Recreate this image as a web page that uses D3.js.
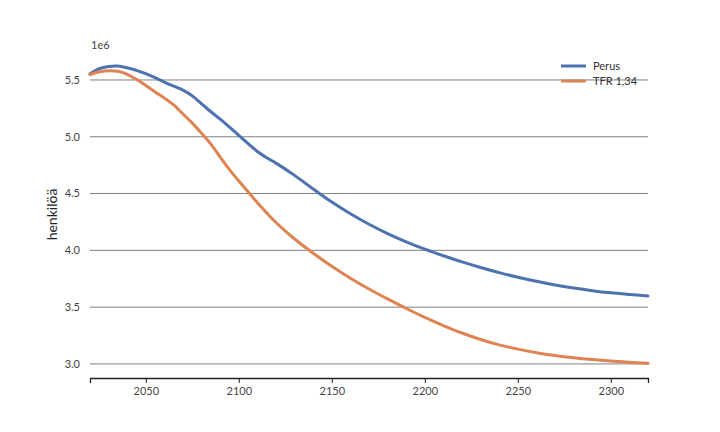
<!DOCTYPE html>
<html>
<head>
<meta charset="utf-8">
<script src="https://cdn.jsdelivr.net/npm/d3@7"></script>
<style>
  body { margin: 0; background: #fff; }
  svg { font-family: Lato, "Open Sans", sans-serif; }
</style>
</head>
<body>
<svg id="chart" width="720" height="432"></svg>
<script>
const years = [2020,2025,2030,2035,2040,2045,2050,2055,2060,2065,2070,2075,2080,2085,2090,2095,2100,2105,2110,2115,2120,2130,2140,2150,2160,2170,2180,2190,2200,2210,2220,2230,2240,2250,2260,2270,2280,2290,2300,2310,2320];
const perus = [5.555,5.60,5.618,5.622,5.607,5.585,5.555,5.52,5.48,5.445,5.41,5.36,5.29,5.22,5.155,5.085,5.012,4.94,4.87,4.815,4.768,4.66,4.54,4.425,4.322,4.23,4.148,4.075,4.01,3.952,3.898,3.849,3.804,3.763,3.727,3.695,3.668,3.645,3.626,3.611,3.599];
const tfr = [5.548,5.572,5.582,5.576,5.55,5.505,5.452,5.395,5.34,5.28,5.20,5.12,5.03,4.935,4.82,4.71,4.61,4.515,4.42,4.33,4.245,4.10,3.975,3.86,3.755,3.66,3.572,3.488,3.41,3.338,3.272,3.215,3.168,3.13,3.099,3.074,3.054,3.038,3.025,3.014,3.005];
const seriesNames = ["Perus", "TFR 1,34"];
const xTicks = [2050,2100,2150,2200,2250,2300];
const yTicks = [3.0,3.5,4.0,4.5,5.0,5.5];
const yLabel = "henkilöä";
const scaleLabel = "1e6";

const colors = ["#4c72b0", "#dd8452"];
const svg = d3.select("#chart");
const mLeft = 90, mRight = 648, mTop = 51, mBottom = 378;

const x = d3.scaleLinear().domain([2020, 2320]).range([mLeft, mRight]);
const y = d3.scaleLinear().domain([2.876, 5.755]).range([mBottom, mTop]);

// gridlines
svg.append("g").selectAll("line").data(yTicks).join("line")
  .attr("x1", mLeft).attr("x2", mRight)
  .attr("y1", d => y(d)).attr("y2", d => y(d))
  .attr("stroke", "#808080").attr("stroke-width", 1);

// y tick labels
svg.append("g").selectAll("text").data(yTicks).join("text")
  .attr("x", 80).attr("y", d => y(d)).attr("dy", "0.35em")
  .attr("text-anchor", "end").attr("font-size", 11).attr("fill", "#444")
  .text(d => d3.format(".1f")(d));

// x axis
const xAxis = d3.axisBottom(x).tickValues(xTicks).tickFormat(d3.format("d")).tickSize(5).tickPadding(4);
const gx = svg.append("g").attr("transform", `translate(0,${mBottom})`).call(xAxis);
gx.select(".domain").attr("stroke", "#222").attr("stroke-width", 1.3);
gx.selectAll(".tick line").attr("stroke", "#222").attr("stroke-width", 1);
gx.selectAll(".tick text").attr("font-size", 11).attr("fill", "#444").attr("font-family", "Lato, sans-serif");

// scale label
svg.append("text").attr("x", 91).attr("y", 49).attr("font-size", 11).attr("fill", "#444").text(scaleLabel);

// y label
svg.append("text")
  .attr("transform", `translate(57,${(mTop + mBottom) / 2}) rotate(-90)`)
  .attr("text-anchor", "middle").attr("font-size", 14).attr("fill", "#222")
  .text(yLabel);

// lines
const line = d3.line().x((d, i) => x(years[i])).y(d => y(d)).curve(d3.curveCatmullRom.alpha(0.5));
[perus, tfr].forEach((s, k) => {
  svg.append("path").datum(s).attr("d", line)
    .attr("fill", "none").attr("stroke", colors[k]).attr("stroke-width", 3)
    .attr("stroke-linecap", "round");
});

// legend
const lg = svg.append("g");
seriesNames.forEach((n, k) => {
  const ly = 66 + k * 15;
  lg.append("line").attr("x1", 561).attr("x2", 586).attr("y1", ly).attr("y2", ly)
    .attr("stroke", colors[k]).attr("stroke-width", 3);
  lg.append("text").attr("x", 593).attr("y", ly).attr("dy", "0.35em")
    .attr("font-size", 11).attr("fill", "#333").text(n);
});
</script>
</body>
</html>
